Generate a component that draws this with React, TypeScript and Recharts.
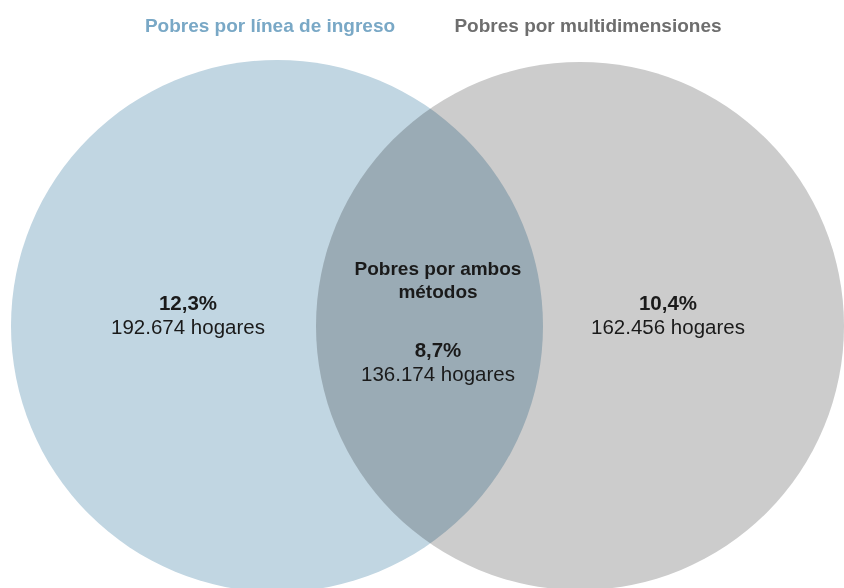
import { ScatterChart, Scatter, XAxis, YAxis } from 'recharts';

// Venn layout, in chart units (1 unit = 1px on an 844x588 canvas)
const setNames = ['Pobres por línea de ingreso', 'Pobres por multidimensiones'];
const setColors = ['#c1d6e2', '#cccccc'];
const titleColors = ['#79a8c6', '#6e6e6e'];
const circleX = [277, 580];
const circleY = [326, 326];
const circleR = [266, 264];
const titleX = [270, 588];

const regionPct = ['12,3%', '8,7%', '10,4%'];
const regionHogares = ['192.674 hogares', '136.174 hogares', '162.456 hogares'];
const regionX = [188, 438, 668];
const regionY = [310, 357, 310];
const overlapTitle = ['Pobres por ambos', 'métodos'];

const W = 844;
const H = 588;
const FONT = '"Liberation Sans", Arial, sans-serif';

const circles = setNames.map((name, i) => ({
  name,
  x: circleX[i],
  y: circleY[i],
  r: circleR[i],
  fill: setColors[i],
}));

const titles = setNames.map((name, i) => ({
  name,
  x: titleX[i],
  y: 32,
  color: titleColors[i],
}));

const labels = regionPct.map((pct, i) => ({
  pct,
  hogares: regionHogares[i],
  x: regionX[i],
  y: regionY[i],
  overlap: i === 1,
}));

const CircleShape = (props: any) => {
  const { cx, cy, payload } = props;
  return (
    <circle
      cx={cx}
      cy={cy}
      r={payload.r}
      fill={payload.fill}
      style={{ mixBlendMode: 'multiply' }}
    />
  );
};

// cy is the baseline of the percentage line
const LabelShape = (props: any) => {
  const { cx, cy, payload } = props;
  return (
    <g fontFamily={FONT} fill="#1a1a1a" textAnchor="middle">
      {payload.overlap && (
        <text x={cx} y={cy - 82} fontWeight="bold" fontSize={19}>
          <tspan x={cx}>{overlapTitle[0]}</tspan>
          <tspan x={cx} dy={23}>{overlapTitle[1]}</tspan>
        </text>
      )}
      <text x={cx} y={cy} fontSize={20.5}>
        <tspan x={cx} fontWeight="bold">{payload.pct}</tspan>
        <tspan x={cx} dy={24}>{payload.hogares}</tspan>
      </text>
    </g>
  );
};

const TitleShape = (props: any) => {
  const { cx, cy, payload } = props;
  return (
    <text
      x={cx}
      y={cy}
      textAnchor="middle"
      fontFamily={FONT}
      fontWeight="bold"
      fontSize={19}
      fill={payload.color}
    >
      {payload.name}
    </text>
  );
};

export default function App() {
  return (
    <div style={{ position: 'fixed', left: 0, top: 0, width: W, height: H, overflow: 'hidden', background: '#fff' }}>
      <ScatterChart width={W} height={H} margin={{ top: 0, right: 0, bottom: 0, left: 0 }}>
        <XAxis type="number" dataKey="x" domain={[0, W]} hide />
        <YAxis type="number" dataKey="y" domain={[0, H]} reversed hide />
        <Scatter data={circles} shape={CircleShape} isAnimationActive={false} />
        <Scatter data={labels} shape={LabelShape} isAnimationActive={false} />
        <Scatter data={titles} shape={TitleShape} isAnimationActive={false} />
      </ScatterChart>
    </div>
  );
}
